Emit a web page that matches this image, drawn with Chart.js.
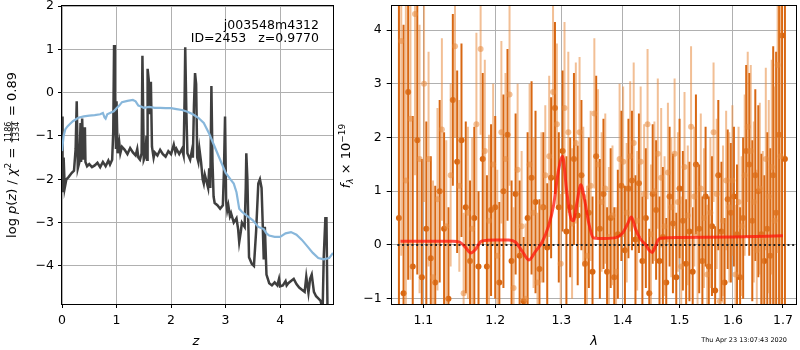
<!DOCTYPE html>
<html>
<head>
<meta charset="utf-8">
<script src="https://cdn.jsdelivr.net/npm/chart.js@4.4.1/dist/chart.umd.min.js"></script>
<style>
html, body { margin: 0; padding: 0; background: #fff; }
#wrap { position: relative; width: 800px; height: 350px; overflow: hidden; }
#c1 { position: absolute; left: 0; top: 0; }
#c2 { position: absolute; left: 335px; top: 0; }
</style>
</head>
<body>
<div id="wrap">
  <canvas id="c1" width="345" height="350"></canvas>
  <canvas id="c2" width="465" height="350"></canvas>
</div>
<script>
// ---- left panel: log p(z) ----
const zTicks = [0, 1, 2, 3, 4];
const pzTicks = [-4, -3, -2, -1, 0, 1, 2];

const zDark = [
  0.00,0.01,0.03,0.05,0.08,0.12,0.18,0.22,0.25,0.27,
  0.29,0.32,0.34,0.35,0.37,0.39,0.42,0.43,0.46,0.50,
  0.55,0.60,0.65,0.70,0.75,0.80,0.85,0.88,0.92,0.94,
  0.955,0.97,0.99,1.00,1.02,1.05,1.07,1.10,1.15,1.20,
  1.25,1.30,1.35,1.38,1.40,1.43,1.46,1.475,1.50,1.53,
  1.55,1.56,1.57,1.59,1.61,1.63,1.65,1.68,1.70,1.75,
  1.80,1.85,1.90,1.95,2.00,2.05,2.08,2.10,2.15,2.20,
  2.23,2.25,2.26,2.28,2.30,2.35,2.38,2.40,2.42,2.44,
  2.46,2.48,2.50,2.52,2.55,2.58,2.60,2.62,2.65,2.68,
  2.70,2.72,2.74,2.76,2.78,2.80,2.85,2.90,2.95,2.97,
  2.99,3.01,3.03,3.05,3.08,3.10,3.15,3.20,3.23,3.25,
  3.28,3.30,3.35,3.37,3.38,3.40,3.43,3.48,3.52,3.56,
  3.60,3.63,3.66,3.68,3.70,3.72,3.75,3.80,3.85,3.90,
  3.95,3.98,4.00,4.05,4.10,4.12,4.15,4.20,4.25,4.30,
  4.35,4.40,4.45,4.48,4.52,4.55,4.58,4.62,4.66,4.70,
  4.74,4.78,4.80,4.83,4.85,4.87,4.89,4.97
];
const pDark = [
  -0.55,-2.3,-1.5,-2.2,-2.0,-1.95,-1.85,-1.8,-1.3,-0.2,
  -1.75,-1.6,-0.7,-1.6,-0.6,-1.55,-0.8,-1.6,-1.7,-1.65,
  -1.72,-1.68,-1.62,-1.72,-1.6,-1.7,-1.57,-1.66,-1.55,-0.9,
  1.1,-0.1,-1.3,-0.2,-1.4,-1.15,-1.4,-1.25,-1.32,-1.42,
  -1.28,-1.38,-1.45,-1.3,-1.5,-1.55,-1.4,0.85,-1.55,-1.45,
  -1.0,-1.55,0.55,0.3,-0.5,0.25,-1.25,-1.5,-1.38,-1.45,
  -1.32,-1.42,-1.48,-1.35,-1.42,-1.2,-1.38,-1.3,-1.42,-1.3,
  -1.45,0.0,1.05,-0.4,-1.4,-1.55,-1.35,-1.5,-0.3,0.45,
  0.2,-1.5,-1.6,-1.3,-1.6,-2.0,-2.1,-1.9,-2.05,-2.2,
  -1.75,-2.2,0.15,-1.6,-2.4,-2.55,-2.6,-2.68,-2.6,-1.8,
  -0.55,-2.5,-2.72,-2.6,-2.85,-2.78,-3.0,-2.9,-3.15,-3.45,
  -3.2,-3.0,-3.1,-2.2,-1.4,-2.0,-3.8,-3.95,-4.0,-3.2,
  -2.1,-2.0,-2.2,-3.0,-3.85,-3.1,-4.2,-4.4,-4.45,-4.38,
  -4.45,-4.3,-4.47,-4.45,-4.35,-4.45,-4.4,-4.35,-4.3,-4.42,
  -4.5,-4.55,-4.6,-4.25,-4.62,-4.3,-4.2,-4.6,-4.7,-4.75,
  -4.8,-5.0,-3.8,-2.9,-2.9,-5.1,-5.2,-5.2
];

const zBlue = [
  0.00,0.03,0.06,0.10,0.15,0.20,0.30,0.40,0.50,0.60,
  0.70,0.75,0.78,0.80,0.83,0.90,0.95,1.00,1.05,1.10,
  1.20,1.30,1.35,1.40,1.45,1.50,1.60,1.70,1.80,1.90,
  2.00,2.10,2.20,2.30,2.40,2.50,2.60,2.70,2.80,2.90,
  3.00,3.10,3.15,3.20,3.25,3.30,3.40,3.50,3.60,3.70,
  3.75,3.80,3.90,4.00,4.10,4.20,4.30,4.40,4.50,4.60,
  4.70,4.80,4.90,4.97
];
const pBlue = [
  -1.35,-1.0,-0.85,-0.78,-0.72,-0.66,-0.58,-0.55,-0.53,-0.52,
  -0.5,-0.47,-0.57,-0.6,-0.5,-0.46,-0.43,-0.36,-0.3,-0.22,
  -0.19,-0.17,-0.2,-0.3,-0.32,-0.35,-0.33,-0.35,-0.35,-0.36,
  -0.36,-0.38,-0.4,-0.44,-0.5,-0.58,-0.7,-0.95,-1.25,-1.55,
  -1.85,-2.02,-2.1,-2.3,-2.68,-2.75,-2.85,-2.95,-3.1,-3.15,
  -3.25,-3.3,-3.33,-3.33,-3.25,-3.22,-3.28,-3.4,-3.55,-3.7,
  -3.82,-3.85,-3.82,-3.7
];

// ---- right panel: spectrum ----
const lamTicks = [1.1, 1.2, 1.3, 1.4, 1.5, 1.6, 1.7];
const fluxTicks = [-1, 0, 1, 2, 3, 4];

// darker orange spectrum
const lamA = [
  1.068,1.074,1.080,1.086,1.092,1.098,1.104,1.110,1.116,1.122,
  1.128,1.134,1.140,1.146,1.152,1.158,1.164,1.170,1.176,1.182,
  1.188,1.194,1.200,1.206,1.212,1.218,1.224,1.230,1.236,1.242,
  1.248,1.254,1.260,1.266,1.272,1.278,1.284,1.290,1.296,1.302,
  1.308,1.314,1.320,1.326,1.332,1.338,1.344,1.350,1.356,1.362,
  1.368,1.374,1.380,1.386,1.392,1.398,1.404,1.410,1.416,1.422,
  1.428,1.434,1.440,1.446,1.452,1.458,1.464,1.470,1.476,1.482,
  1.488,1.494,1.500,1.506,1.512,1.518,1.524,1.530,1.536,1.542,
  1.548,1.554,1.560,1.566,1.572,1.578,1.584,1.590,1.596,1.602,
  1.608,1.614,1.620,1.626,1.632,1.638,1.644,1.650,1.656,1.662,
  1.668,1.674,1.680,1.686,1.692,1.698,1.704
];
const fA = [
  0.5,-0.9,2.85,-0.4,1.95,-0.6,0.3,-0.25,-0.7,1.0,
  0.3,-1.0,2.7,1.55,1.95,0.7,-0.3,0.5,-0.4,1.6,
  -0.4,0.65,0.7,-0.7,1.0,2.05,-0.3,0.95,-0.2,-1.05,
  0.5,1.25,0.8,-0.45,0.7,-0.05,1.25,2.55,0.7,1.75,
  0.25,0.7,1.6,0.55,1.3,-0.35,0.6,-0.5,1.65,0.3,
  0.95,-0.5,0.5,-0.6,0.2,1.1,-0.1,1.05,1.2,0.1,
  1.15,-0.3,0.5,-0.9,0.95,0.65,-0.3,0.15,-0.7,0.9,
  0.4,-0.6,1.05,0.45,-0.35,0.25,-0.5,1.5,0.3,-0.3,
  0.9,-0.4,0.35,-0.85,1.3,0.25,-0.7,0.85,0.6,0.9,
  0.2,-0.6,0.5,1.75,1.5,0.45,1.3,1.0,0.2,-0.3,
  0.3,-0.2,1.3,0.6,2.05,3.9,1.6
];
const eA = [
  6,5,3.5,2.8,2.5,2.2,2.0,1.9,1.8,1.7,
  1.8,1.7,1.6,1.7,1.8,1.6,1.5,1.7,1.4,1.6,
  1.7,1.6,1.7,1.5,1.8,1.6,1.5,1.5,1.4,1.2,
  1.6,1.8,1.7,1.3,1.4,1.2,1.5,1.6,1.4,1.5,
  1.4,1.3,1.6,1.3,1.4,1.2,1.4,1.4,1.5,1.3,
  1.4,1.2,1.3,1.3,1.2,1.4,1.2,1.3,1.3,1.2,
  1.3,1.2,1.3,1.2,1.3,1.3,1.2,1.3,1.2,1.3,
  1.3,1.2,1.3,1.3,1.2,1.3,1.2,1.3,1.2,1.2,
  1.3,1.3,1.3,1.2,1.4,1.3,1.2,1.3,1.3,1.3,
  1.3,1.3,1.5,1.6,1.7,1.5,1.6,1.6,1.5,1.6,
  1.8,2.0,2.4,3.0,4.0,5,6
];

// lighter orange spectrum
const lamB = [
  1.071,1.077,1.083,1.089,1.095,1.101,1.107,1.113,1.119,1.125,
  1.131,1.137,1.143,1.149,1.155,1.161,1.167,1.173,1.179,1.185,
  1.191,1.197,1.203,1.209,1.215,1.221,1.227,1.233,1.239,1.245,
  1.251,1.257,1.263,1.269,1.275,1.281,1.287,1.293,1.299,1.305,
  1.311,1.317,1.323,1.329,1.335,1.341,1.347,1.353,1.359,1.365,
  1.371,1.377,1.383,1.389,1.395,1.401,1.407,1.413,1.419,1.425,
  1.431,1.437,1.443,1.449,1.455,1.461,1.467,1.473,1.479,1.485,
  1.491,1.497,1.503,1.509,1.515,1.521,1.527,1.533,1.539,1.545,
  1.551,1.557,1.563,1.569,1.575,1.581,1.587,1.593,1.599,1.605,
  1.611,1.617,1.623,1.629,1.635,1.641,1.647,1.653,1.659,1.665,
  1.671,1.677,1.683,1.689,1.695
];
const fB = [
  3.8,1.2,2.35,4.3,1.6,3.0,1.6,-0.6,0.85,2.15,
  0.35,1.3,3.7,1.1,-0.9,0.6,0.3,2.25,3.65,1.75,
  0.45,1.5,-0.2,2.1,1.6,2.8,-0.8,1.4,0.35,-1.0,
  1.5,0.6,-0.7,0.7,1.3,1.65,2.85,2.25,-0.35,2.55,
  2.1,0.4,1.9,2.1,0.9,-0.2,1.1,2.45,1.5,0.8,
  1.05,0.15,0.55,-0.5,1.6,1.55,0.6,1.65,1.9,0.45,
  1.55,0.95,2.25,0.2,1.0,1.7,1.25,0.35,1.35,0.7,
  1.7,0.8,-0.4,1.45,0.55,2.2,0.9,0.2,1.05,0.5,
  -0.55,0.6,2.1,0.95,-1.05,0.45,1.2,0.7,1.2,-0.55,
  0.8,0.35,1.3,2.2,1.75,0.8,-0.1,1.05,0.15,1.6,
  0.9,1.45,0.45,3.35,1.65
];
const eB = [
  4,3.5,3,3,2.5,2.2,2.0,1.8,1.7,1.7,
  1.6,1.7,1.7,1.6,1.5,1.6,1.7,1.7,1.6,1.7,
  1.6,1.5,1.6,1.7,1.6,1.7,1.5,1.6,1.4,1.4,
  1.5,1.4,1.3,1.4,1.3,1.5,1.6,1.5,1.3,1.6,
  1.5,1.4,1.5,1.4,1.3,1.3,1.4,1.4,1.4,1.3,
  1.4,1.3,1.3,1.2,1.4,1.4,1.3,1.4,1.5,1.3,
  1.4,1.3,1.4,1.3,1.3,1.4,1.3,1.3,1.3,1.3,
  1.4,1.3,1.3,1.4,1.3,1.5,1.3,1.3,1.4,1.3,
  1.3,1.4,1.3,1.4,1.3,1.4,1.3,1.4,1.4,1.3,
  1.4,1.3,1.5,1.4,1.6,1.5,1.5,1.6,1.6,1.7,
  1.8,2.0,2.5,3.5,4.5
];

// best-fit template
const lamModel = [
  1.070,1.100,1.140,1.150,1.158,1.165,1.172,1.180,1.200,1.220,
  1.230,1.240,1.250,1.260,1.270,1.280,1.288,1.295,1.302,1.308,
  1.314,1.319,1.325,1.331,1.337,1.344,1.352,1.370,1.390,1.400,
  1.408,1.415,1.422,1.430,1.440,1.446,1.451,1.456,1.462,1.470,
  1.500,1.600,1.700
];
const fModel = [
  0.07,0.07,0.07,0.05,-0.05,-0.15,-0.08,0.07,0.09,0.09,
  0.05,-0.12,-0.28,-0.12,0.05,0.35,0.75,1.35,1.65,1.05,
  0.55,0.45,0.8,1.12,0.85,0.4,0.13,0.12,0.14,0.22,
  0.38,0.52,0.3,0.12,0.0,-0.1,-0.14,-0.05,0.1,0.13,
  0.14,0.15,0.17
];
const zeroLam = [1.066, 1.727];
const zeroVal = [0, 0];

const FONT = 'DejaVu Sans';
Chart.defaults.font.family = FONT;
Chart.defaults.font.size = 12.5;
Chart.defaults.color = '#000';

const pts = (xs, ys) => xs.map((x, i) => ({ x: x, y: ys[i] }));
const minus = v => String(v).replace('-', '\u2212');

// stop Chart.js from padding the plot area for edge tick labels
function noPad(s) {
  s.paddingTop = 0; s.paddingBottom = 0; s.paddingLeft = 0; s.paddingRight = 0;
}

// black box round the axes
const frame = {
  id: 'frame',
  afterDraw(chart) {
    const a = chart.chartArea, c = chart.ctx;
    c.save();
    c.strokeStyle = '#000';
    c.lineWidth = 1;
    c.strokeRect(Math.round(a.left) - 0.5, Math.round(a.top) - 0.5,
      Math.round(a.right - a.left) + 1, Math.round(a.bottom - a.top) + 1);
    c.restore();
  }
};

// vertical error bars, drawn just before the dataset's points
const errBars = {
  id: 'errBars',
  beforeDatasetDraw(chart, args) {
    const ds = chart.data.datasets[args.index];
    if (!ds.err) return;
    const xs = chart.scales.x, ys = chart.scales.y, a = chart.chartArea, c = chart.ctx;
    c.save();
    c.beginPath();
    c.rect(a.left, a.top, a.right - a.left, a.bottom - a.top);
    c.clip();
    c.strokeStyle = ds.barColor;
    c.lineWidth = 2;
    ds.data.forEach((p, i) => {
      const px = xs.getPixelForValue(p.x);
      c.beginPath();
      c.moveTo(px, ys.getPixelForValue(p.y - ds.err[i]));
      c.lineTo(px, ys.getPixelForValue(p.y + ds.err[i]));
      c.stroke();
    });
    c.restore();
  }
};

// draw a run of text pieces centred on 0 (used rotated for y labels)
function drawPieces(c, pieces) {
  let total = 0;
  pieces.forEach(p => {
    c.font = p.font;
    p.w = p.frac ? Math.max(c.measureText(p.num).width, c.measureText(p.den).width) + 3
                 : c.measureText(p.t).width;
    total += p.w;
  });
  let x = -total / 2;
  pieces.forEach(p => {
    c.font = p.font;
    if (p.frac) {
      c.textAlign = 'center';
      c.fillText(p.num, x + p.w / 2, -5.5);
      c.fillText(p.den, x + p.w / 2, 3);
      c.fillRect(x + 1, -4.6, p.w - 2, 0.8);
      c.textAlign = 'left';
    } else {
      c.fillText(p.t, x, p.dy || 0);
    }
    x += p.w;
  });
}

const N = '13px ' + FONT, I = 'italic 13px ' + FONT, S = '9px ' + FONT, SI = 'italic 9px ' + FONT;

const leftText = {
  id: 'leftText',
  afterDraw(chart) {
    const c = chart.ctx;
    c.save();
    c.fillStyle = '#000';
    c.textBaseline = 'alphabetic';
    c.font = '12.5px ' + FONT;
    c.textAlign = 'right';
    c.fillText('j003548m4312', 319, 29);
    c.fillText('ID=2453   z=0.9770', 319, 42);
    c.textAlign = 'center';
    c.font = I;
    c.fillText('z', 196, 345);
    c.translate(16, 155);
    c.rotate(-Math.PI / 2);
    c.textAlign = 'left';
    drawPieces(c, [
      { t: 'log ', font: N },
      { t: 'p', font: I },
      { t: '(', font: N },
      { t: 'z', font: I },
      { t: ') / ', font: N },
      { t: '\u03c7', font: I },
      { t: '2', font: S, dy: -5 },
      { t: ' = ', font: N },
      { frac: true, num: '1186', den: '1334', font: '8px ' + FONT },
      { t: ' = 0.89', font: N }
    ]);
    c.restore();
  }
};

const rightText = {
  id: 'rightText',
  afterDraw(chart) {
    const c = chart.ctx;
    c.save();
    c.fillStyle = '#000';
    c.textBaseline = 'alphabetic';
    c.textAlign = 'center';
    c.font = I;
    c.fillText('\u03bb', 259, 345);
    c.font = '6.5px ' + FONT;
    c.textAlign = 'right';
    c.fillText('Thu Apr 23 13:07:43 2020', 452, 342);
    c.translate(15, 156);
    c.rotate(-Math.PI / 2);
    c.textAlign = 'left';
    drawPieces(c, [
      { t: 'f', font: I },
      { t: '\u03bb', font: SI, dy: 3 },
      { t: ' \u00d7 10', font: N },
      { t: '\u221219', font: S, dy: -5 }
    ]);
    c.restore();
  }
};

const gridOpts = { color: '#b0b0b0', lineWidth: 1, tickColor: '#000', tickLength: 4 };

new Chart(document.getElementById('c1'), {
  type: 'scatter',
  data: {
    datasets: [
      { data: pts(zBlue, pBlue), showLine: true, fill: false, borderColor: '#88b7db',
        borderWidth: 2.2, pointRadius: 0, order: 0 },
      { data: pts(zDark, pDark), showLine: true, fill: false, borderColor: '#3f3f3f',
        borderWidth: 2.5, pointRadius: 0, order: 1 }
    ]
  },
  options: {
    responsive: false,
    animation: false,
    layout: { padding: { left: 0, right: 12, top: 6, bottom: 0 } },
    plugins: { legend: { display: false }, tooltip: { enabled: false } },
    scales: {
      x: {
        type: 'linear', min: 0, max: 4.97,
        afterBuildTicks: a => { a.ticks = zTicks.map(v => ({ value: v })); },
        afterFit: s => { s.height = 46; noPad(s); },
        grid: gridOpts, border: { display: false },
        ticks: { padding: 5, maxRotation: 0, autoSkip: false, callback: v => minus(v) }
      },
      y: {
        type: 'linear', min: -4.88, max: 2.0,
        afterBuildTicks: a => { a.ticks = pzTicks.map(v => ({ value: v })); },
        afterFit: s => { s.width = 62; noPad(s); },
        grid: gridOpts, border: { display: false },
        ticks: { padding: 4, autoSkip: false, callback: v => minus(v) }
      }
    }
  },
  plugins: [frame, leftText]
});

new Chart(document.getElementById('c2'), {
  type: 'scatter',
  data: {
    datasets: [
      { data: pts(lamModel, fModel), showLine: true, fill: false, borderColor: 'rgba(255,20,10,0.75)',
        borderWidth: 3, pointRadius: 0, cubicInterpolationMode: 'monotone', order: 0 },
      { data: pts(zeroLam, zeroVal), showLine: true, fill: false, borderColor: '#222',
        borderWidth: 2, borderDash: [2, 2.7], pointRadius: 0, order: 1 },
      { data: pts(lamB, fB), err: eB, barColor: 'rgba(232,138,62,0.55)',
        pointRadius: 3, pointBorderWidth: 0, pointBackgroundColor: 'rgba(232,138,62,0.55)', order: 2 },
      { data: pts(lamA, fA), err: eA, barColor: 'rgb(216,103,18)',
        pointRadius: 3, pointBorderWidth: 0, pointBackgroundColor: 'rgb(216,103,18)', order: 3 }
    ]
  },
  options: {
    responsive: false,
    animation: false,
    layout: { padding: { left: 0, right: 1, top: 6, bottom: 0 } },
    plugins: { legend: { display: false }, tooltip: { enabled: false } },
    scales: {
      x: {
        type: 'logarithmic', min: 1.0587, max: 1.727,
        afterBuildTicks: a => { a.ticks = lamTicks.map(v => ({ value: v })); },
        afterFit: s => { s.height = 46; noPad(s); },
        grid: gridOpts, border: { display: false },
        ticks: { padding: 5, maxRotation: 0, autoSkip: false, callback: v => Number(v).toFixed(1) }
      },
      y: {
        type: 'linear', min: -1.1, max: 4.45,
        afterBuildTicks: a => { a.ticks = fluxTicks.map(v => ({ value: v })); },
        afterFit: s => { s.width = 56.7; noPad(s); },
        grid: Object.assign({}, gridOpts, { tickLength: 5 }), border: { display: false },
        ticks: { padding: 5, autoSkip: false, callback: v => minus(v) }
      }
    }
  },
  plugins: [frame, errBars, rightText]
});
</script>
</body>
</html>
